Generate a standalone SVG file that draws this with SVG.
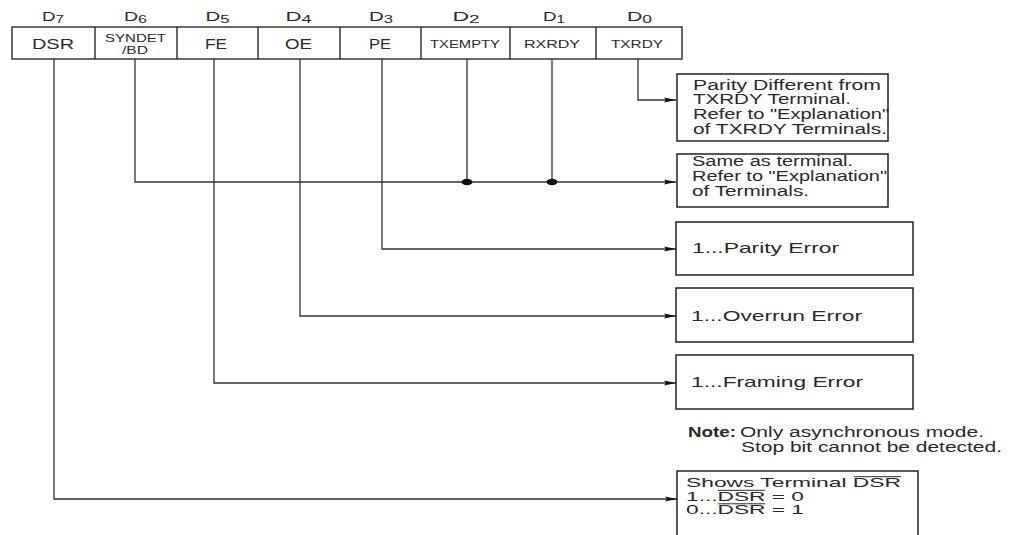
<svg xmlns="http://www.w3.org/2000/svg" width="1016" height="535" viewBox="0 0 1016 535">
<style>
text{font-family:"Liberation Sans",Arial,sans-serif;fill:#2a2a2a}
.cell{fill:#fff;stroke:#2a2a2a;stroke-width:1.4}
.box{fill:#fff;stroke:#222;stroke-width:1.5}
.reg{font-size:14px}
.regs{font-size:11px}
.dl{font-size:13.5px}
.bt{font-size:14px}
.bt15{font-size:15px}
.nt{font-size:14px}
.b6{font-size:13px}
.wire{fill:none;stroke:#333;stroke-width:1.3}
.ovl{stroke:#2a2a2a;stroke-width:1}
</style>
<defs>
<marker id="arr" viewBox="0 0 12 7" refX="12" refY="3.5" markerWidth="12" markerHeight="7" markerUnits="userSpaceOnUse" orient="auto">
<path d="M0,1 L12,3.5 L0,6 L2,3.5 Z" fill="#111"/>
</marker>
</defs>

<g id="register">
<rect class="cell" x="12" y="27" width="670" height="32"/>
<path d="M95 27V59M177 27V59M258 27V59M340 27V59M421 27V59M510 27V59M596 27V59" stroke="#2a2a2a" stroke-width="1.4"/>
<text class="dl" x="53" y="21" text-anchor="middle" textLength="22" lengthAdjust="spacingAndGlyphs">D<tspan font-size="11" dy="2">7</tspan></text>
<text class="dl" x="135.5" y="21" text-anchor="middle" textLength="23" lengthAdjust="spacingAndGlyphs">D<tspan font-size="11" dy="2">6</tspan></text>
<text class="dl" x="217.5" y="21" text-anchor="middle" textLength="24" lengthAdjust="spacingAndGlyphs">D<tspan font-size="11" dy="2">5</tspan></text>
<text class="dl" x="298.5" y="21" text-anchor="middle" textLength="26" lengthAdjust="spacingAndGlyphs">D<tspan font-size="11" dy="2">4</tspan></text>
<text class="dl" x="381" y="21" text-anchor="middle" textLength="24" lengthAdjust="spacingAndGlyphs">D<tspan font-size="11" dy="2">3</tspan></text>
<text class="dl" x="466" y="21" text-anchor="middle" textLength="27" lengthAdjust="spacingAndGlyphs">D<tspan font-size="11" dy="2">2</tspan></text>
<text class="dl" x="554" y="21" text-anchor="middle" textLength="22" lengthAdjust="spacingAndGlyphs">D<tspan font-size="11" dy="2">1</tspan></text>
<text class="dl" x="639.5" y="21" text-anchor="middle" textLength="25" lengthAdjust="spacingAndGlyphs">D<tspan font-size="11" dy="2">0</tspan></text>
<text class="reg" x="32" y="48.5" textLength="42" lengthAdjust="spacingAndGlyphs">DSR</text>
<text class="regs" x="105" y="42" textLength="61" lengthAdjust="spacingAndGlyphs">SYNDET</text>
<text class="regs" x="122" y="54" textLength="26" lengthAdjust="spacingAndGlyphs">/BD</text>
<text class="reg" x="205" y="48.5" textLength="22" lengthAdjust="spacingAndGlyphs">FE</text>
<text class="reg" x="285" y="48.5" textLength="27" lengthAdjust="spacingAndGlyphs">OE</text>
<text class="reg" x="369" y="48.5" textLength="22" lengthAdjust="spacingAndGlyphs">PE</text>
<text class="regs" x="430" y="47.5" textLength="70" lengthAdjust="spacingAndGlyphs">TXEMPTY</text>
<text class="regs" x="524" y="47.5" textLength="56" lengthAdjust="spacingAndGlyphs">RXRDY</text>
<text class="regs" x="611" y="47.5" textLength="52" lengthAdjust="spacingAndGlyphs">TXRDY</text>
</g>

<g id="connectors">
<path class="wire" d="M638 59V100H676" marker-end="url(#arr)"/>
<path class="wire" d="M135 59V182H676" marker-end="url(#arr)"/>
<path class="wire" d="M467 59V182"/>
<path class="wire" d="M552 59V182"/>
<ellipse cx="467" cy="182" rx="5.5" ry="3.3" fill="#111"/>
<ellipse cx="552" cy="182" rx="5.5" ry="3.3" fill="#111"/>
<path class="wire" d="M382 59V249H676" marker-end="url(#arr)"/>
<path class="wire" d="M300 59V316H676" marker-end="url(#arr)"/>
<path class="wire" d="M214 59V383H676" marker-end="url(#arr)"/>
<path class="wire" d="M54 59V499H677" marker-end="url(#arr)"/>
</g>

<g id="txrdy-box">
<rect class="box" x="677" y="74" width="211" height="67"/>
<text class="bt" x="693" y="89.5" textLength="188" lengthAdjust="spacingAndGlyphs">Parity Different from</text>
<text class="bt" x="693" y="104" textLength="158" lengthAdjust="spacingAndGlyphs">TXRDY Terminal.</text>
<text class="bt" x="693" y="119" textLength="196" lengthAdjust="spacingAndGlyphs">Refer to "Explanation"</text>
<text class="bt" x="693" y="134" textLength="194" lengthAdjust="spacingAndGlyphs">of TXRDY Terminals.</text>
</g>

<g id="terminal-box">
<rect class="box" x="677" y="154" width="211" height="53"/>
<text class="bt" x="692" y="166" textLength="161" lengthAdjust="spacingAndGlyphs">Same as terminal.</text>
<text class="bt" x="692" y="181" textLength="195" lengthAdjust="spacingAndGlyphs">Refer to "Explanation"</text>
<text class="bt" x="692" y="195.5" textLength="117" lengthAdjust="spacingAndGlyphs">of Terminals.</text>
</g>

<g id="parity-box">
<rect class="box" x="676" y="222" width="237" height="53"/>
<text class="bt15" x="692" y="253" textLength="147" lengthAdjust="spacingAndGlyphs">1...Parity Error</text>
</g>

<g id="overrun-box">
<rect class="box" x="676" y="288" width="237" height="54"/>
<text class="bt15" x="691" y="321" textLength="171" lengthAdjust="spacingAndGlyphs">1...Overrun Error</text>
</g>

<g id="framing-box">
<rect class="box" x="676" y="355" width="237" height="54"/>
<text class="bt15" x="691" y="387" textLength="172" lengthAdjust="spacingAndGlyphs">1...Framing Error</text>
</g>

<g id="note">
<text class="nt" x="688" y="437" font-weight="bold" textLength="48" lengthAdjust="spacingAndGlyphs">Note:</text>
<text class="nt" x="740" y="437" textLength="244" lengthAdjust="spacingAndGlyphs">Only asynchronous mode.</text>
<text class="nt" x="741" y="452" textLength="261" lengthAdjust="spacingAndGlyphs">Stop bit cannot be detected.</text>
</g>

<g id="dsr-box">
<rect class="box" x="677" y="471" width="241" height="80"/>
<text class="b6" x="686" y="487" textLength="215" lengthAdjust="spacingAndGlyphs">Shows Terminal DSR</text>
<line class="ovl" x1="854" y1="476.7" x2="901" y2="476.7"/>
<text class="b6" x="686" y="500.5" textLength="118" lengthAdjust="spacingAndGlyphs">1...DSR = 0</text>
<line class="ovl" x1="718" y1="490.3" x2="765" y2="490.3"/>
<text class="b6" x="686" y="514" textLength="118" lengthAdjust="spacingAndGlyphs">0...DSR = 1</text>
<line class="ovl" x1="718" y1="503.8" x2="765" y2="503.8"/>
</g>
</svg>
